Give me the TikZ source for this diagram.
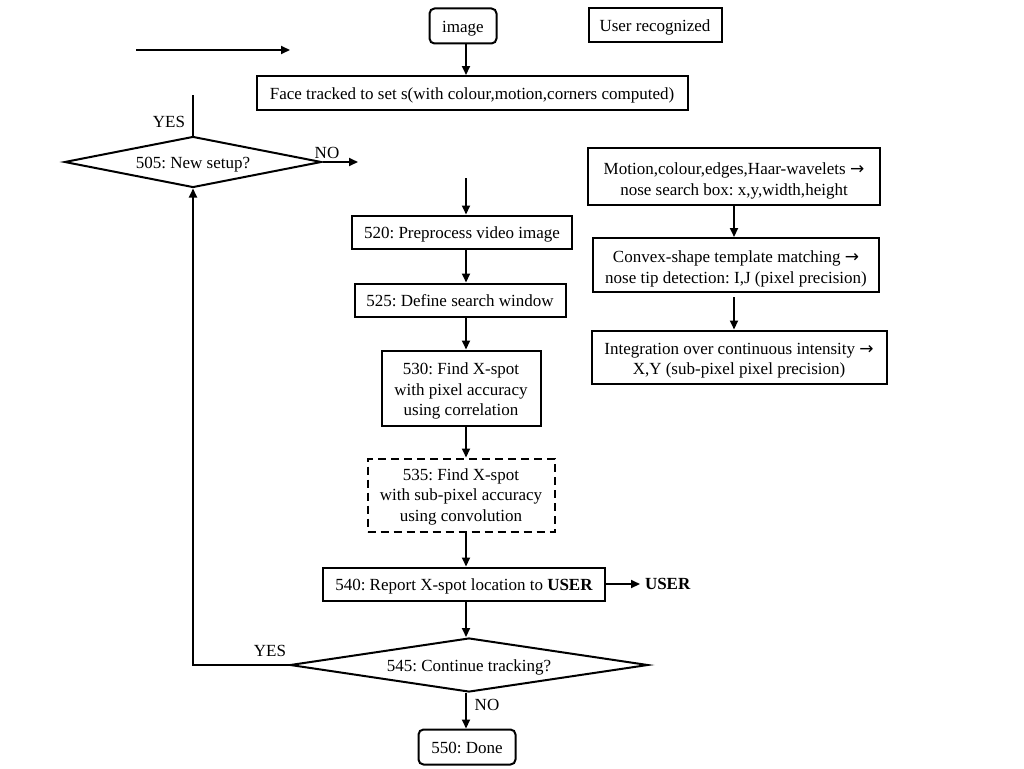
\documentclass[tikz,border=0pt]{standalone}
\usepackage{fontspec}
\setmainfont{Liberation Serif}
\newfontfamily\arrowfont{DejaVu Sans}
\newcommand{\rarr}{{\arrowfont →}}
\newcommand{\topgap}[1]{\rule{0pt}{#1}}
\usetikzlibrary{arrows.meta,shapes.geometric}
\frenchspacing

\begin{document}
\begin{tikzpicture}[x=1pt,y=-1pt,line width=2pt,
    font=\fontsize{17}{20.5}\selectfont,
    lowered/.style={execute at begin node={\rule{0pt}{16.5pt}},execute at end node={\rule[-4pt]{0pt}{0pt}}},
    box/.style={draw,rectangle,inner sep=0pt,align=center,lowered},
    rbox/.style={box,rounded corners=5pt},
    dbox/.style={box,dashed,dash pattern=on 8pt off 5pt},
    decision/.style={draw,diamond,inner sep=0pt,aspect=5,lowered},
    arr/.style={-{Triangle[length=9pt,width=8pt]}},
    lbl/.style={inner sep=0pt}]
    \useasboundingbox (0,0) rectangle (1024,768);
    % top of the chart
    \node[rbox,minimum width=67pt,minimum height=35pt] (image) at (463,26) {image};
    \node[box,minimum width=133pt,minimum height=34pt] (user) at (655,25) {User recognized};
    \coordinate (fa) at (136,50); \coordinate (fb) at (290,50);
    \draw[arr] (fa)--(fb);
    \node[box,minimum width=431pt,minimum height=34pt] (face) at (472,93) {Face tracked to set s(with colour,motion,corners computed)};
    \draw[arr] (image.south -| 466,0)--(face.north -| 466,0);
    % left decision
    \node[decision,minimum width=257pt,minimum height=51pt] (d505) at (193,162) {505: New setup?};
    \coordinate (yt) at (193,95);
    \draw (d505.north)--(yt);
    \node[lbl] at (169,122) {YES};
    \coordinate (no1) at (358,162);
    \draw[arr] (d505.east)--(no1);
    \node[lbl] at (327,153) {NO};
    % main column
    \coordinate (in520) at (466,178);
    \node[box,minimum width=220pt,minimum height=33pt] (p520) at (462,232) {520: Preprocess video image};
    \draw[arr] (in520)--(p520.north -| in520);
    \node[box,minimum width=211pt,minimum height=33pt] (p525) at (460,300) {525: Define search window};
    \node[box,minimum width=159pt,minimum height=75pt] (p530) at (461,388) {\topgap{18.5pt}530: Find X-spot\\with pixel accuracy\\using correlation};
    \node[dbox,minimum width=187pt,minimum height=73pt] (p535) at (461,495) {\topgap{15.5pt}535: Find X-spot\\with sub-pixel accuracy\\using convolution};
    \node[box,minimum width=282pt,minimum height=33pt] (p540) at (464,584) {540: Report X-spot location to \textbf{USER}};
    \node[decision,minimum width=358pt,minimum height=54pt] (d545) at (469,665) {545: Continue tracking?};
    \node[rbox,minimum width=97pt,minimum height=35pt] (p550) at (467,747) {550: Done};
    \foreach \a/\b in {p520/p525,p525/p530,p530/p535,p535/p540,p540/d545,d545/p550}
        \draw[arr] (\a.south -| 466,0)--(\b.north -| 466,0);
    \node[lbl,anchor=west,font=\fontsize{17}{20}\selectfont\bfseries] (usr) at (644,584) {USER};
    \draw[arr] (p540.east)--(640,584);
    \node[lbl] at (487,705) {NO};
    \node[lbl] at (270,651) {YES};
    \draw[arr] (d545.west)-|(d505.south);
    % right column
    \node[box,minimum width=292pt,minimum height=57pt] (r1) at (734,176) {\topgap{22pt}Motion,colour,edges,Haar-wavelets \rarr\\nose search box: x,y,width,height};
    \node[box,minimum width=286pt,minimum height=54pt] (r2) at (736,265) {\topgap{20pt}Convex-shape template matching \rarr\\nose tip detection: I,J (pixel precision)};
    \node[box,minimum width=295pt,minimum height=53pt] (r3) at (739,357) {\topgap{19pt}Integration over continuous intensity \rarr\\X,Y (sub-pixel pixel precision)};
    \draw[arr] (r1.south -| 734,0)--(r2.north -| 734,0);
    \draw[arr] (r2.south -| 734,0)++(0,4)--(r3.north -| 734,0);
\end{tikzpicture}
\end{document}
